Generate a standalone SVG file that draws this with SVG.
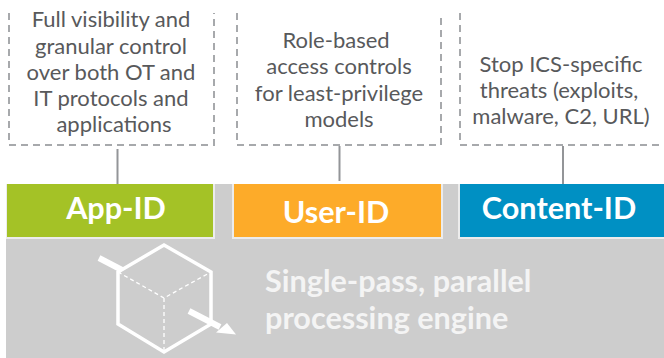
<svg xmlns="http://www.w3.org/2000/svg" width="664" height="358" viewBox="0 0 664 358">
<style>
text{font-family:Lato,"Open Sans","Liberation Sans",sans-serif;text-anchor:middle}
.d{font-size:22px;fill:#58595b}
.l{font-size:30.600px;font-weight:700;fill:#fff}
.e{font-size:30.600px;font-weight:700;fill:#f4f4f4;text-anchor:start}
.b{fill:none;stroke:#a7a9ac;stroke-width:2;stroke-dasharray:7 5}
.c{stroke:#939598;stroke-width:2;fill:none}
.s{fill:#ececec}
.w{fill:none;stroke:#fff;stroke-width:3.500}
.t{fill:none;stroke:#fff;stroke-width:1.300;stroke-dasharray:4 3}
</style>
<rect x="0" y="0" width="664" height="358" fill="#fff"/>
<g id="engine">
<rect x="6" y="184" width="658" height="174" fill="#cdcdcd"/>
<polygon class="w" points="164,245 211,272 211,324 164,352 118,324 118,272"/>
<path class="t" d="M118,272 L164,298 L211,272 M164,298 V352"/>
<path d="M99,258 L122,270" fill="none" stroke="#fff" stroke-width="6"/>
<path d="M189,311 L220,327" fill="none" stroke="#fff" stroke-width="6"/>
<polygon points="236,334.500 216,332.500 227,323" fill="#fff"/>
<text class="e" x="265" y="292">Single-pass, parallel</text>
<text class="e" x="265" y="329">processing engine</text>
</g>
<g id="connectors">
<line class="c" x1="117.500" y1="149" x2="117.500" y2="184"/>
<line class="c" x1="339.500" y1="146" x2="339.500" y2="181"/>
<line class="c" x1="563" y1="146" x2="563" y2="187"/>
</g>
<g id="app-id">
<path class="b" d="M9,13 V145 H214 V13"/>
<text class="d" x="111" y="27">Full visibility and</text>
<text class="d" x="111" y="54">granular control</text>
<text class="d" x="111" y="80">over both OT and</text>
<text class="d" x="111" y="106">IT protocols and</text>
<text class="d" x="114" y="132">applications</text>
<rect class="s" x="6" y="184" width="209" height="55"/>
<rect x="7" y="184" width="206" height="53" fill="#a4c226"/>
<text class="l" x="116" y="219">App-ID</text>
</g>
<g id="user-id">
<path class="b" d="M237,13 V145 H441 V13"/>
<text class="d" x="336" y="48">Role-based</text>
<text class="d" x="339" y="74">access controls</text>
<text class="d" x="339" y="101">for least-privilege</text>
<text class="d" x="339" y="127">models</text>
<rect class="s" x="232" y="184" width="211" height="55"/>
<rect x="234" y="184" width="207" height="53" fill="#fdab29"/>
<text class="l" x="336" y="223">User-ID</text>
</g>
<g id="content-id">
<path class="b" d="M460,13 V145 H664"/>
<text class="d" x="561" y="72">Stop ICS-specific</text>
<text class="d" x="559" y="98">threats (exploits,</text>
<text class="d" x="561" y="124">malware, C2, URL)</text>
<rect class="s" x="458" y="184" width="206" height="55"/>
<rect x="460" y="184" width="204" height="53" fill="#0090c3"/>
<text class="l" x="559" y="219">Content-ID</text>
</g>
</svg>
